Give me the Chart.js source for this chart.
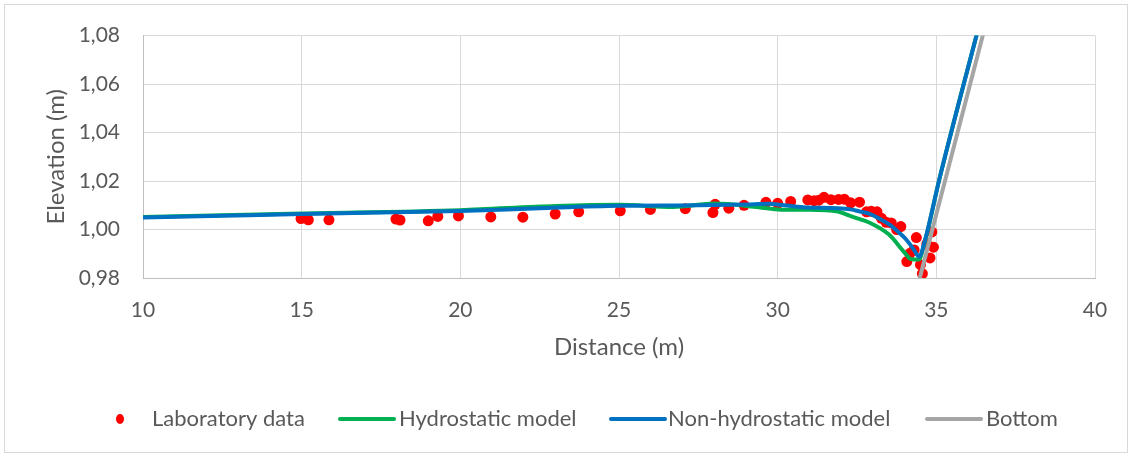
<!DOCTYPE html>
<html>
<head>
<meta charset="utf-8">
<script src="https://cdn.jsdelivr.net/npm/chart.js@4/dist/chart.umd.min.js"></script>
<style>
  html, body { margin: 0; padding: 0; background: #ffffff; }
  #wrap { position: relative; width: 1132px; height: 457px; }
  canvas { display: block; }
</style>
</head>
<body>
<div id="wrap"><canvas id="c" width="1132" height="457"></canvas></div>
<script>
// Measured water surface along the flume
const labX = [14.98, 15.21, 15.86, 17.97, 18.10, 18.99, 19.29, 19.94, 20.96, 21.97,
  22.99, 23.73, 25.04, 25.99, 27.09, 27.96, 28.03, 28.46, 28.94, 29.63,
  30.00, 30.41, 30.95, 31.15, 31.30, 31.46, 31.68, 31.92, 32.10, 32.30,
  32.58, 32.80, 32.95, 33.13, 33.27, 33.42, 33.58, 33.75, 33.88, 34.07,
  34.17, 34.30, 34.37, 34.50, 34.56, 34.70, 34.80, 34.86, 34.91];
const labY = [1.0045, 1.0040, 1.0040, 1.0043, 1.0039, 1.0036, 1.0054, 1.0056, 1.0052, 1.0051,
  1.0064, 1.0073, 1.0077, 1.0083, 1.0086, 1.0070, 1.0104, 1.0088, 1.0100, 1.0112,
  1.0108, 1.0116, 1.0122, 1.0119, 1.0121, 1.0133, 1.0123, 1.0124, 1.0125, 1.0110,
  1.0113, 1.0073, 1.0075, 1.0073, 1.0046, 1.0030, 1.0027, 1.0000, 1.0012, 0.9868,
  0.9902, 0.9916, 0.9967, 0.9855, 0.9818, 0.9940, 0.9883, 0.9990, 0.9927];

// Hydrostatic model surface
const hydroX = [10, 15, 20, 23, 25, 26.7, 28, 29.4, 30.1, 31, 31.9, 32.3, 32.9, 33.5,
  34.0, 34.2, 34.45, 34.6, 35.1, 36.5];
const hydroY = [1.0052, 1.0066, 1.0080, 1.0097, 1.0102, 1.0093, 1.0107, 1.0092, 1.0082, 1.0082,
  1.0074, 1.0055, 1.0028, 0.9980, 0.9905, 0.9878, 0.9876, 0.9930, 1.0210, 1.0918];

// Non-hydrostatic model surface
const nonHydroX = [10, 12.5, 15, 17.5, 20, 22.5, 25, 27.5, 29, 29.7, 30.2, 30.8, 31.9, 32.3,
  32.6, 32.9, 33.2, 33.55, 33.8, 34.07, 34.3, 34.46, 34.65, 35.1, 36.5];
const nonHydroY = [1.0050, 1.0057, 1.0064, 1.0070, 1.0076, 1.0088, 1.0098, 1.0100, 1.0103, 1.0106,
  1.0100, 1.0092, 1.0088, 1.0083, 1.0074, 1.0065, 1.0045, 1.0018, 0.9990, 0.9956,
  0.9915, 0.9888, 0.9960, 1.0210, 1.0918];

// Beach bottom profile
const bottomX = [34.2, 36.8];
const bottomY = [0.966, 1.097];

// Axis ticks
const xTicks = [10, 15, 20, 25, 30, 35, 40];
const yTicks = [0.98, 1.00, 1.02, 1.04, 1.06, 1.08];

const toPts = (xs, ys) => xs.map((x, i) => ({ x: x, y: ys[i] }));

const FONT = 'Lato, "Open Sans", sans-serif';
const TEXT = '#595959';

// Legend and outer frame drawn on the canvas
const legendPlugin = {
  id: 'bottomLegend',
  beforeDraw(chart) {
    const ctx = chart.ctx;
    ctx.save();
    ctx.fillStyle = '#ffffff';
    ctx.fillRect(0, 0, chart.width, chart.height);
    ctx.strokeStyle = '#d9d9d9';
    ctx.lineWidth = 1;
    ctx.strokeRect(4.5, 4.5, 1123, 448);
    ctx.restore();
  },
  afterDraw(chart) {
    const ctx = chart.ctx;
    const ds = chart.data.datasets;
    const y = 419;
    const items = [
      { i: 0, sym: 120, text: 152 },
      { i: 1, sym: 340, text: 399 },
      { i: 2, sym: 611, text: 668 },
      { i: 3, sym: 927, text: 986 }
    ];
    ctx.save();
    ctx.font = '22px ' + FONT;
    ctx.textBaseline = 'middle';
    ctx.textAlign = 'left';
    items.forEach(it => {
      const d = ds[it.i];
      if (d.showLine === false) {
        ctx.fillStyle = d.backgroundColor;
        ctx.beginPath();
        ctx.ellipse(it.sym, y, 4, 5, 0, 0, Math.PI * 2);
        ctx.fill();
      } else {
        ctx.strokeStyle = d.borderColor;
        ctx.lineWidth = 4;
        ctx.lineCap = 'round';
        ctx.beginPath();
        ctx.moveTo(it.sym, y);
        ctx.lineTo(it.sym + 54, y);
        ctx.stroke();
      }
      ctx.fillStyle = TEXT;
      ctx.fillText(d.label, it.text, y);
    });
    ctx.restore();
  }
};

new Chart(document.getElementById('c'), {
  type: 'scatter',
  data: {
    datasets: [
      {
        label: 'Laboratory data',
        data: toPts(labX, labY),
        showLine: false,
        backgroundColor: '#ff0000',
        borderColor: '#ff0000',
        pointRadius: 5.5,
        pointBorderWidth: 0,
        order: 4
      },
      {
        label: 'Hydrostatic model',
        data: toPts(hydroX, hydroY),
        showLine: true,
        borderColor: '#00b050',
        backgroundColor: '#00b050',
        borderWidth: 4,
        pointRadius: 0,
        cubicInterpolationMode: 'monotone',
        order: 3
      },
      {
        label: 'Non-hydrostatic model',
        data: toPts(nonHydroX, nonHydroY),
        showLine: true,
        borderColor: '#0070c0',
        backgroundColor: '#0070c0',
        borderWidth: 4,
        pointRadius: 0,
        cubicInterpolationMode: 'monotone',
        order: 2
      },
      {
        label: 'Bottom',
        data: toPts(bottomX, bottomY),
        showLine: true,
        borderColor: '#a5a5a5',
        backgroundColor: '#a5a5a5',
        borderWidth: 4,
        pointRadius: 0,
        order: 1
      }
    ]
  },
  options: {
    responsive: false,
    animation: false,
    devicePixelRatio: 1,
    layout: { padding: { left: 42, right: 37, top: 33, bottom: 88 } },
    plugins: {
      legend: { display: false },
      tooltip: { enabled: false }
    },
    scales: {
      x: {
        type: 'linear',
        min: 10,
        max: 40,
        afterBuildTicks: s => { s.ticks = xTicks.map(v => ({ value: v })); },
        afterFit: s => { s.height = 91; },
        grid: { color: '#d9d9d9', lineWidth: 1, drawTicks: false },
        border: { color: '#bfbfbf', width: 1 },
        ticks: {
          padding: 20,
          color: TEXT,
          font: { family: FONT, size: 21 },
          maxRotation: 0,
          callback: v => String(v)
        },
        title: {
          display: true,
          text: 'Distance (m)',
          color: TEXT,
          font: { family: FONT, size: 24 },
          padding: { top: 0, bottom: 7 }
        }
      },
      y: {
        type: 'linear',
        min: 0.98,
        max: 1.08,
        afterBuildTicks: s => { s.ticks = yTicks.map(v => ({ value: v })); },
        afterFit: s => { s.width = 101; },
        grid: { color: '#d9d9d9', lineWidth: 1, drawTicks: false },
        border: { color: '#bfbfbf', width: 1 },
        ticks: {
          padding: 23,
          color: TEXT,
          font: { family: FONT, size: 21 },
          callback: v => v.toFixed(2).replace('.', ',')
        },
        title: {
          display: true,
          text: 'Elevation (m)',
          color: TEXT,
          font: { family: FONT, size: 24 },
          padding: { top: 0, bottom: 0 }
        }
      }
    }
  },
  plugins: [legendPlugin]
});
</script>
</body>
</html>
